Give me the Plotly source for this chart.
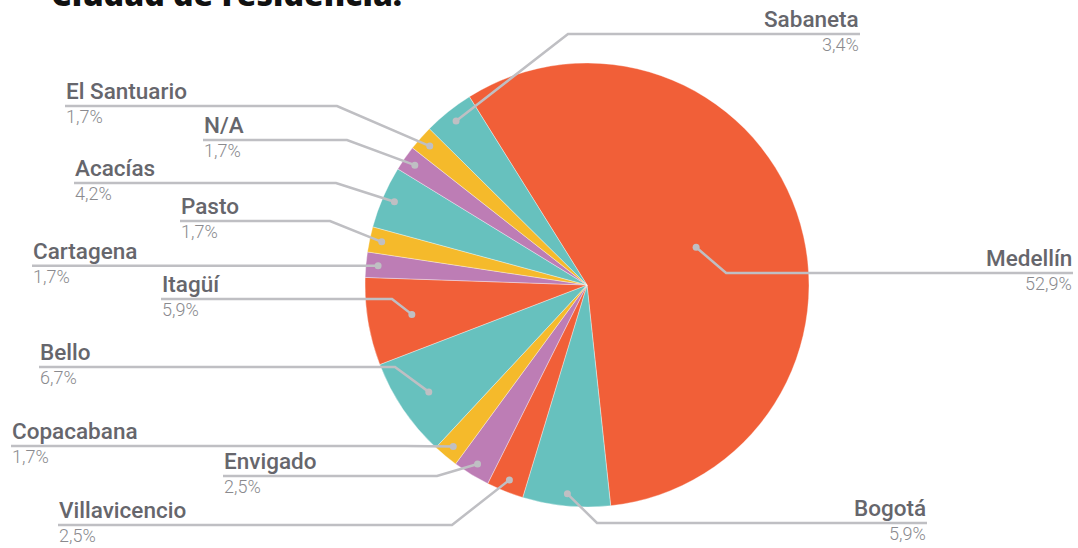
import math
import plotly.graph_objects as go

W, H = 1078, 548

# Ciudad de residencia: category names, shares (%) and slice colours, clockwise from Medellín
ciudades = ["Medellín", "Bogotá", "Villavicencio", "Envigado", "Copacabana", "Bello",
            "Itagüí", "Cartagena", "Pasto", "Acacías", "N/A", "El Santuario", "Sabaneta"]
porcentajes = [52.9, 5.9, 2.5, 2.5, 1.7, 6.7, 5.9, 1.7, 1.7, 4.2, 1.7, 1.7, 3.4]
etiquetas_pct = ["52,9%", "5,9%", "2,5%", "2,5%", "1,7%", "6,7%", "5,9%",
                 "1,7%", "1,7%", "4,2%", "1,7%", "1,7%", "3,4%"]

NARANJA, TURQUESA, MORADO, AMARILLO = "#F15F38", "#67C1BE", "#BD7DB5", "#F5BA2B"
colores = [NARANJA, TURQUESA, NARANJA, MORADO, AMARILLO, TURQUESA,
           NARANJA, MORADO, AMARILLO, TURQUESA, MORADO, AMARILLO, TURQUESA]

# pie geometry in pixels
CX, CY, R = 587, 285, 222
ROTACION = -32

# label placement: (radial fraction of the dot, y of the label rule, elbow x, text x, side)
layout_etiquetas = {
    "Medellín":      (0.52, 273, None, 1073, "right"),
    "Bogotá":        (0.945, 523, 597, 927, "right"),
    "Villavicencio": (0.945, 525, 452, 58, "left"),
    "Envigado":      (0.945, 476, 437, 223, "left"),
    "Copacabana":    (0.945, 446, 406, 11, "left"),
    "Bello":         (0.86, 367, 395, 39, "left"),
    "Itagüí":        (0.80, 299, 392, 161, "left"),
    "Cartagena":     (0.945, None, None, 32, "left"),
    "Pasto":         (0.945, 221, 330, 180, "left"),
    "Acacías":       (0.945, 183, 336, 74, "left"),
    "N/A":           (0.945, 140, 347, 203, "left"),
    "El Santuario":  (0.945, 106, 337, 65, "left"),
    "Sabaneta":      (0.945, 34, 568, 860, "right"),
}

LINEA = "#BFBFC3"
COLOR_NOMBRE = "#66666C"
COLOR_PCT = "#8A8A8E"


def px(x):
    return x / W


def py(y):
    return 1 - y / H


fig = go.Figure(go.Pie(
    labels=ciudades,
    values=porcentajes,
    sort=False,
    direction="clockwise",
    rotation=ROTACION,
    marker=dict(colors=colores, line=dict(color="rgba(255,255,255,0.6)", width=0.6)),
    textinfo="none",
    hoverinfo="label+percent",
    domain=dict(x=[px(CX - R), px(CX + R)], y=[py(CY + R), py(CY - R)]),
    showlegend=False,
))

shapes = []
annotations = []
total = sum(porcentajes)
acumulado = 0.0
for nombre, valor, pct in zip(ciudades, porcentajes, etiquetas_pct):
    medio = ROTACION + (acumulado + valor / 2) / total * 360
    acumulado += valor
    frac, linea_y, codo_x, texto_x, lado = layout_etiquetas[nombre]
    a = math.radians(medio)
    dx = CX + frac * R * math.sin(a)
    dy = CY - frac * R * math.cos(a)
    if linea_y is None:
        linea_y = dy
    # leader line: dot -> elbow -> horizontal rule
    puntos = [(dx, dy)]
    if codo_x is not None:
        puntos.append((codo_x, linea_y))
    elif abs(dy - linea_y) > 1:
        puntos.append((dx + 30 if lado == "right" else dx - 30, linea_y))
    puntos.append((texto_x, linea_y))
    path = "M " + " L ".join(f"{px(x)},{py(y)}" for x, y in puntos)
    shapes.append(dict(type="path", path=path, xref="paper", yref="paper",
                       line=dict(color=LINEA, width=2.5)))
    shapes.append(dict(type="circle", xref="paper", yref="paper",
                       x0=px(dx - 3.5), x1=px(dx + 3.5), y0=py(dy + 3.5), y1=py(dy - 3.5),
                       fillcolor=LINEA, line=dict(width=0)))
    annotations.append(dict(
        text=nombre, x=px(texto_x), y=py(linea_y - 1), xref="paper", yref="paper",
        xanchor=lado, yanchor="bottom", showarrow=False, borderpad=0,
        font=dict(family="Roboto", size=22.5, color=COLOR_NOMBRE, weight=500)))
    annotations.append(dict(
        text=pct, x=px(texto_x), y=py(linea_y - 1), xref="paper", yref="paper",
        xanchor=lado, yanchor="top", showarrow=False, borderpad=0,
        font=dict(family="Roboto", size=18, color=COLOR_PCT, weight=300)))

annotations.append(dict(
    text="Ciudad de residencia.", x=px(50), y=py(16), xref="paper", yref="paper",
    xanchor="left", yanchor="bottom", showarrow=False, borderpad=0,
    font=dict(family="Open Sans", size=32, color="#111111", weight=800)))

fig.update_layout(
    width=W, height=H,
    margin=dict(l=0, r=0, t=0, b=0),
    paper_bgcolor="white",
    plot_bgcolor="white",
    shapes=shapes,
    annotations=annotations,
)

fig.write_html("out.html")
